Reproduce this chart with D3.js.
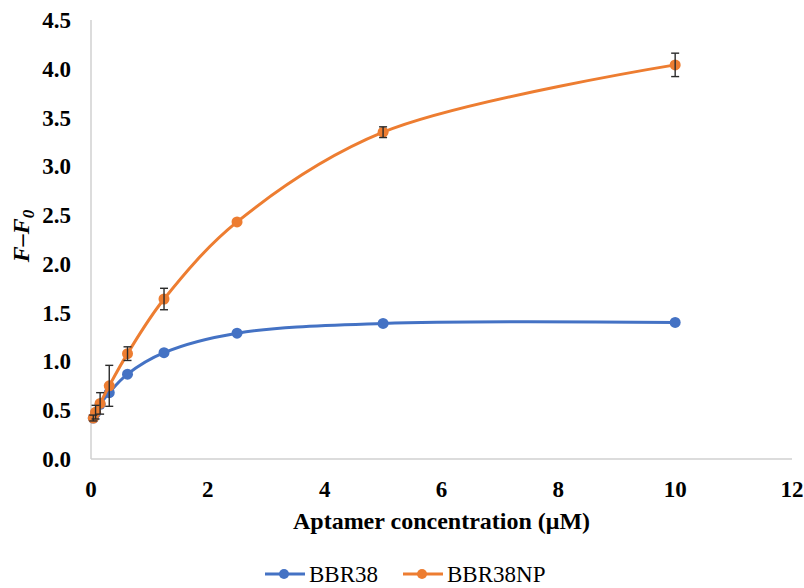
<!DOCTYPE html>
<html>
<head>
<meta charset="utf-8">
<script src="https://cdn.jsdelivr.net/npm/d3@7/dist/d3.min.js"></script>
<style>
  body { margin: 0; background: #fff; }
</style>
</head>
<body>
<div id="chart"></div>
<script>
// concentrations (µM)
var conc = [0.039, 0.078, 0.156, 0.3125, 0.625, 1.25, 2.5, 5, 10];
var bbr38 = [0.42, 0.47, 0.56, 0.68, 0.87, 1.09, 1.29, 1.39, 1.40];
var bbr38np = [0.42, 0.48, 0.57, 0.75, 1.08, 1.64, 2.43, 3.35, 4.04];
var bbr38npErr = [0.03, 0.07, 0.11, 0.21, 0.07, 0.11, 0, 0.055, 0.12];
var xTicks = [0, 2, 4, 6, 8, 10, 12];
var yTicks = [0, 0.5, 1, 1.5, 2, 2.5, 3, 3.5, 4, 4.5];

var width = 804, height = 588;
var margin = {top: 20, right: 12, bottom: 129, left: 91};
var serif = "'Liberation Serif'";

var svg = d3.select("#chart").append("svg")
    .attr("width", width)
    .attr("height", height);

var x = d3.scaleLinear().domain([0, 12]).range([margin.left, 792]);
var y = d3.scaleLinear().domain([0, 4.5]).range([459, margin.top]);

// axes lines
svg.append("line")
    .attr("x1", x(0)).attr("x2", x(0))
    .attr("y1", y(4.5)).attr("y2", y(0))
    .attr("stroke", "#d0d0d0").attr("stroke-width", 1.5);
svg.append("line")
    .attr("x1", x(0)).attr("x2", x(12))
    .attr("y1", y(0)).attr("y2", y(0))
    .attr("stroke", "#d0d0d0").attr("stroke-width", 1.5);

// tick labels
svg.append("g").selectAll("text")
    .data(yTicks)
    .enter().append("text")
    .attr("x", 71)
    .attr("y", function(d){ return y(d); })
    .attr("dy", "0.35em")
    .attr("text-anchor", "end")
    .attr("font-size", 23)
    .attr("font-weight", "bold")
    .style("font-family", serif)
    .text(function(d){ return d3.format(".1f")(d); });

svg.append("g").selectAll("text")
    .data(xTicks)
    .enter().append("text")
    .attr("x", function(d){ return x(d); })
    .attr("y", 489)
    .attr("dy", "0.35em")
    .attr("text-anchor", "middle")
    .attr("font-size", 23)
    .attr("font-weight", "bold")
    .style("font-family", serif)
    .text(function(d){ return d; });

// axis titles
svg.append("text")
    .attr("x", (x(0) + x(12)) / 2)
    .attr("y", 521)
    .attr("dy", "0.35em")
    .attr("text-anchor", "middle")
    .attr("font-size", 24)
    .attr("font-weight", "bold")
    .style("font-family", serif)
    .text("Aptamer concentration (μM)");

var yt = svg.append("text")
    .attr("transform", "translate(29,236) rotate(-90)")
    .attr("text-anchor", "middle")
    .attr("font-size", 24)
    .attr("font-weight", "bold")
    .attr("font-style", "italic")
    .style("font-family", serif);
yt.append("tspan").text("F–F");
yt.append("tspan").attr("dy", 5).attr("font-size", 17).text("0");

// series
var series = [
  {name: "BBR38", values: bbr38, color: "#4472C4"},
  {name: "BBR38NP", values: bbr38np, color: "#ED7D31"}
];

var line = d3.line()
    .x(function(d){ return x(d[0]); })
    .y(function(d){ return y(d[1]); })
    .curve(d3.curveCatmullRom.alpha(0.5));

series.forEach(function(s){
  var pts = conc.map(function(c, i){ return [c, s.values[i]]; });
  svg.append("path")
      .datum(pts)
      .attr("d", line)
      .attr("fill", "none")
      .attr("stroke", s.color)
      .attr("stroke-width", 3);
  svg.append("g").selectAll("circle")
      .data(pts)
      .enter().append("circle")
      .attr("cx", function(d){ return x(d[0]); })
      .attr("cy", function(d){ return y(d[1]); })
      .attr("r", 5.5)
      .attr("fill", s.color);
});

// error bars (BBR38NP)
var eb = svg.append("g").attr("stroke", "#2b2b2b").attr("stroke-width", 1.4);
conc.forEach(function(c, i){
  if (!bbr38npErr[i]) return;
  var cx = x(c), lo = y(bbr38np[i] - bbr38npErr[i]), hi = y(bbr38np[i] + bbr38npErr[i]);
  eb.append("line").attr("x1", cx).attr("x2", cx).attr("y1", lo).attr("y2", hi);
  eb.append("line").attr("x1", cx - 4).attr("x2", cx + 4).attr("y1", lo).attr("y2", lo);
  eb.append("line").attr("x1", cx - 4).attr("x2", cx + 4).attr("y1", hi).attr("y2", hi);
});

// legend
var legend = svg.append("g");
var legendX = [265, 403];
series.forEach(function(s, i){
  var lx = legendX[i], ly = 574;
  legend.append("line")
      .attr("x1", lx).attr("x2", lx + 40)
      .attr("y1", ly).attr("y2", ly)
      .attr("stroke", s.color).attr("stroke-width", 3);
  legend.append("circle")
      .attr("cx", lx + 19).attr("cy", ly).attr("r", 5)
      .attr("fill", s.color);
  legend.append("text")
      .attr("x", lx + 44).attr("y", ly)
      .attr("dy", "0.35em")
      .attr("font-size", 23)
      .style("font-family", serif)
      .text(s.name);
});
</script>
</body>
</html>
